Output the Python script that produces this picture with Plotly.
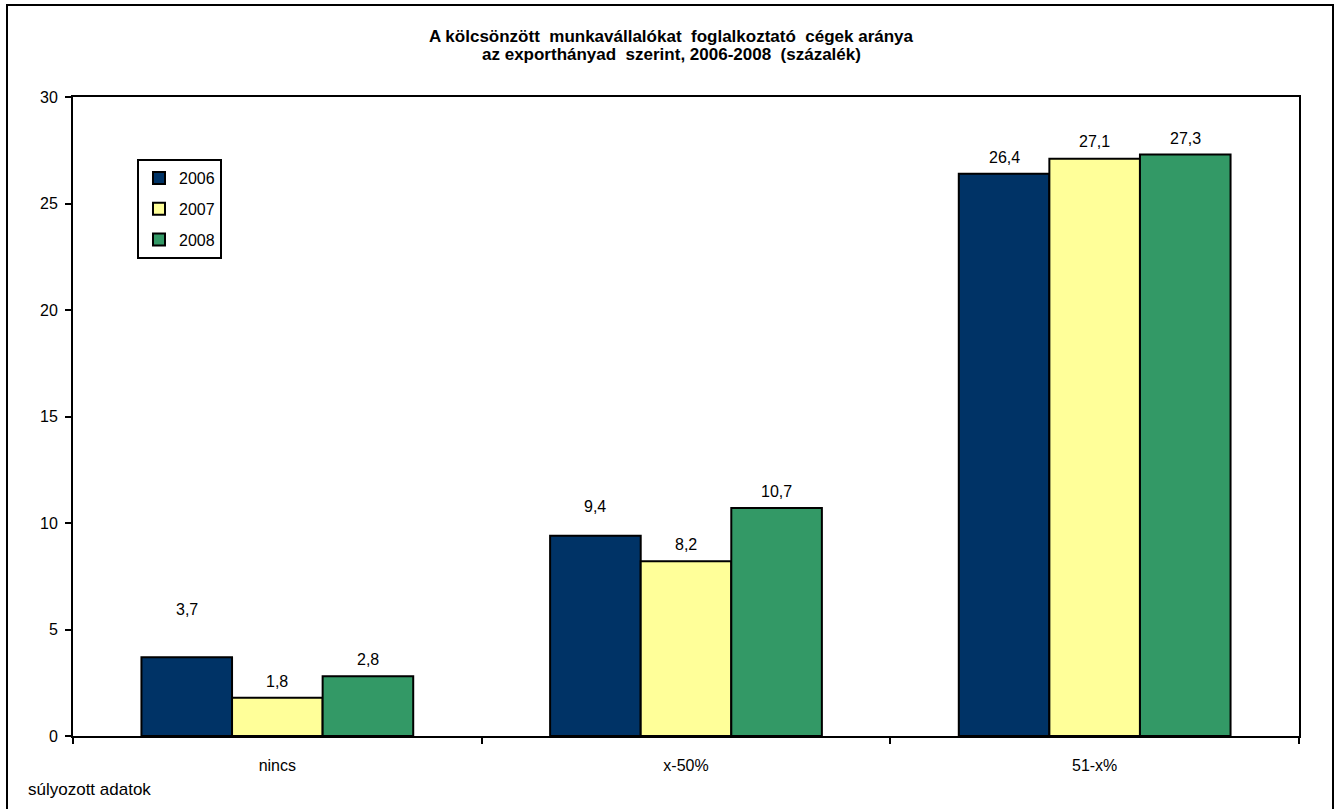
import plotly.graph_objects as go

categories = ["nincs", "x-50%", "51-x%"]
years = ["2006", "2007", "2008"]
values_2006 = [3.7, 9.4, 26.4]
values_2007 = [1.8, 8.2, 27.1]
values_2008 = [2.8, 10.7, 27.3]
colors = ["#003366", "#FFFF99", "#339966"]
y_ticks = [0, 5, 10, 15, 20, 25, 30]

series = [values_2006, values_2007, values_2008]
# label lift above bar top in px (style: mimics the original label placement)
label_lift = [[37, 19, 6], [6, 6, 7], [6, 6, 6]]

FONT = "Liberation Sans, Arial, sans-serif"

def fmt(v):
    return f"{v:.1f}".replace(".", ",")

W, H = 1335, 809
L, R, T, B = 73, 36, 97, 73
pw, ph = W - L - R, H - T - B
BARGAP = 0.335
bar_px = pw / len(categories) * (1 - BARGAP) / len(series)

def px(x):
    return (x - L) / pw

def py(y):
    return (H - B - y) / ph

fig = go.Figure()
for i, (name, vals, col, lift) in enumerate(zip(years, series, colors, label_lift)):
    fig.add_trace(go.Bar(
        x=categories, y=vals, name=name, legendgroup=name,
        marker=dict(color=col, line=dict(color="black", width=2)),
    ))
    for c, v, s in zip(categories, vals, lift):
        fig.add_annotation(x=c, y=v, text=fmt(v), showarrow=False,
                           xanchor="center", yanchor="bottom",
                           xshift=(i - (len(series) - 1) / 2) * bar_px, yshift=s,
                           font=dict(family=FONT, size=16, color="black"))

fig.update_layout(
    width=W, height=H,
    margin=dict(l=L, r=R, t=T, b=B),
    paper_bgcolor="white", plot_bgcolor="white",
    barmode="group", bargap=BARGAP, bargroupgap=0,
    font=dict(family=FONT, size=16, color="black"),
    legend=dict(
        x=px(137), y=py(159), xanchor="left", yanchor="top",
        bgcolor="white", bordercolor="black", borderwidth=2,
        font=dict(size=16), itemwidth=30, tracegroupgap=7,
    ),
    xaxis=dict(
        showline=True, linecolor="black", linewidth=2, mirror=True,
        ticks="outside", tickson="boundaries", ticklen=6, tickwidth=2, tickcolor="black",
        showgrid=False, tickfont=dict(size=16), ticklabelstandoff=14,
    ),
    yaxis=dict(
        range=[0, 30], tickvals=y_ticks,
        showline=True, linecolor="black", linewidth=2, mirror=True,
        ticks="outside", ticklen=6, tickwidth=2, tickcolor="black",
        showgrid=False, zeroline=False, tickfont=dict(size=16), ticklabelstandoff=4,
    ),
    showlegend=True,
)

title_lines = [
    "<b>A kölcsönzött&nbsp; munkavállalókat&nbsp; foglalkoztató&nbsp; cégek aránya</b>",
    "<b>az exporthányad&nbsp; szerint, 2006-2008&nbsp; (százalék)</b>",
]
for line, yc in zip(title_lines, [37, 55]):
    fig.add_annotation(text=line, xref="paper", yref="paper",
                       x=px(671), y=py(yc), xanchor="center", yanchor="middle",
                       showarrow=False, font=dict(size=17, family=FONT))

fig.add_shape(type="rect", xref="paper", yref="paper",
              x0=px(7), x1=px(1333), y0=py(814), y1=py(5),
              line=dict(color="black", width=2), fillcolor="rgba(0,0,0,0)", layer="above")

fig.add_annotation(text="súlyozott adatok", xref="paper", yref="paper",
                   x=px(26), y=py(790), xanchor="left", yanchor="middle",
                   showarrow=False, font=dict(size=17))

fig.write_html("out.html", config={"displayModeBar": False},
               post_script="document.body.style.margin='0px';")
